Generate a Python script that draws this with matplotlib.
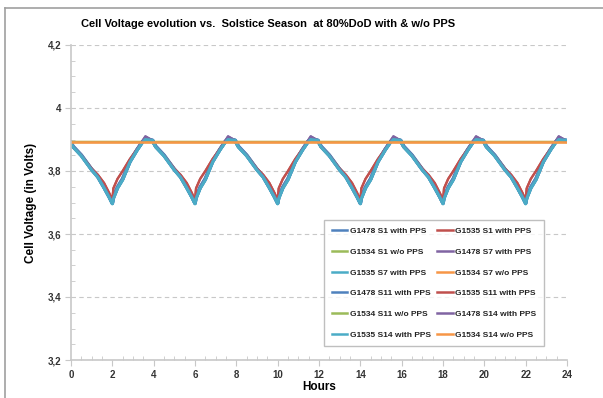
import matplotlib
matplotlib.use("Agg")
import matplotlib.pyplot as plt
import numpy as np
from matplotlib.ticker import MultipleLocator, FuncFormatter
from matplotlib.lines import Line2D

plt.rcParams['font.family'] = ['Liberation Sans', 'DejaVu Sans']

# one 4-hour orbit, repeated six times over the day
orbit_t = [0.0, 0.1, 0.5, 1.0, 1.3, 1.6, 1.85, 2.0, 2.05, 2.25, 2.5, 2.85, 3.2, 3.45, 3.6, 3.95]
v_g1478 = [3.890, 3.878, 3.850, 3.805, 3.782, 3.748, 3.718, 3.698, 3.716, 3.748, 3.775, 3.830, 3.868, 3.892, 3.902, 3.897]
v_g1478_s7 = [3.890, 3.878, 3.850, 3.806, 3.783, 3.750, 3.720, 3.700, 3.716, 3.748, 3.776, 3.830, 3.870, 3.895, 3.910, 3.897]
v_g1535_s1 = [3.888, 3.876, 3.850, 3.808, 3.788, 3.762, 3.730, 3.708, 3.745, 3.775, 3.800, 3.838, 3.870, 3.893, 3.902, 3.897]
v_g1535_s7 = [3.888, 3.876, 3.848, 3.803, 3.780, 3.746, 3.716, 3.696, 3.712, 3.745, 3.772, 3.828, 3.866, 3.890, 3.900, 3.897]
v_nopps = 3.893
n_orbits = 6
orbit_len = 4
v_end = 3.897

labels = ["G1478 S1 with PPS", "G1535 S1 with PPS", "G1534 S1 w/o PPS",
          "G1478 S7 with PPS", "G1535 S7 with PPS", "G1534 S7 w/o PPS",
          "G1478 S11 with PPS", "G1535 S11 with PPS", "G1534 S11 w/o PPS",
          "G1478 S14 with PPS", "G1535 S14 with PPS", "G1534 S14 w/o PPS"]
colors = ["#4F81BD", "#C0504D", "#9BBB59", "#8064A2", "#4BACC6", "#F79646"] * 2
widths = [2.6, 1.6, 1.6, 1.6, 2.2, 1.6, 2.6, 1.6, 1.6, 1.6, 2.2, 1.8]


def day(profile):
    t = np.concatenate([np.array(orbit_t) + k * orbit_len for k in range(n_orbits)] + [[24.0]])
    v = np.concatenate([profile] * n_orbits + [[v_end]])
    return t, v


t_flat = [0, 24]
series = [day(v_g1478), day(v_g1535_s1), (t_flat, [v_nopps] * 2),
          day(v_g1478_s7), day(v_g1535_s7), (t_flat, [v_nopps] * 2),
          day(v_g1478), day(v_g1535_s1), (t_flat, [v_nopps] * 2),
          day(v_g1478_s7), day(v_g1535_s7), (t_flat, [v_nopps] * 2)]

fig = plt.figure(figsize=(6.03, 3.98), dpi=100)
ax = fig.add_axes([71 / 603, 1 - 360 / 398, 496 / 603, 315 / 398])

lines = []
for (t, v), lab, c, w in zip(series, labels, colors, widths):
    ln, = ax.plot(t, v, color=c, lw=w, label=lab, solid_joinstyle='round')
    lines.append(ln)

ax.set_xlim(0, 24)
ax.set_ylim(3.2, 4.2)
ax.xaxis.set_major_locator(MultipleLocator(2))
ax.xaxis.set_minor_locator(MultipleLocator(0.5))
ax.yaxis.set_major_locator(MultipleLocator(0.2))
ax.yaxis.set_minor_locator(MultipleLocator(0.05))
ax.yaxis.set_major_formatter(FuncFormatter(lambda y, p: ("%g" % round(y, 2)).replace('.', ',')))

for s in ['top', 'right']:
    ax.spines[s].set_visible(False)
for s in ['left', 'bottom']:
    ax.spines[s].set_color('#C8C8C8')
    ax.spines[s].set_linewidth(1.2)
ax.tick_params(which='major', direction='out', length=4, color='#C8C8C8',
               labelsize=7, labelcolor='#333333', pad=3)
ax.tick_params(which='minor', direction='in', length=3, color='#C8C8C8')
for lbl in ax.get_xticklabels() + ax.get_yticklabels():
    lbl.set_fontweight('bold')
ax.grid(axis='y', which='major', color='#C8C8C8', linestyle=(0, (4, 3)), lw=0.8)
ax.set_axisbelow(True)

fig.text(268 / 603, 1 - 24 / 398, "Cell Voltage evolution vs.  Solstice Season  at 80%DoD with & w/o PPS",
         ha='center', va='center', fontsize=8, fontweight='bold')
ax.set_xlabel("Hours", fontsize=8.5, fontweight='bold', labelpad=1)
ax.set_ylabel("Cell Voltage (in Volts)", fontsize=8.5, fontweight='bold', labelpad=8)

# legend filled row by row, two entries per row
order = list(range(0, 12, 2)) + list(range(1, 12, 2))
leg = ax.legend([lines[i] for i in order], [labels[i] for i in order],
                ncol=2, loc='lower left', bbox_to_anchor=(0.502, 0.03), fontsize=6.0,
                handlelength=1.9, handletextpad=0.3, columnspacing=0.7, labelspacing=1.55,
                borderpad=0.9, frameon=True, fancybox=False, shadow=False)
leg.get_frame().set_edgecolor('#B0B0B0')
leg.get_frame().set_linewidth(1.0)
for txt in leg.get_texts():
    txt.set_fontweight('bold')
    txt.set_color('#222222')
for h in leg.get_lines():
    h.set_linewidth(1.8)

# outer chart frame
fig.add_artist(Line2D([4.5 / 603, 4.5 / 603], [0, 1 - 8 / 398], color='#A0A0A0', lw=1.2))
fig.add_artist(Line2D([4.5 / 603, 1], [1 - 8 / 398, 1 - 8 / 398], color='#A0A0A0', lw=1.2))

fig.savefig("out.png", dpi=100)
